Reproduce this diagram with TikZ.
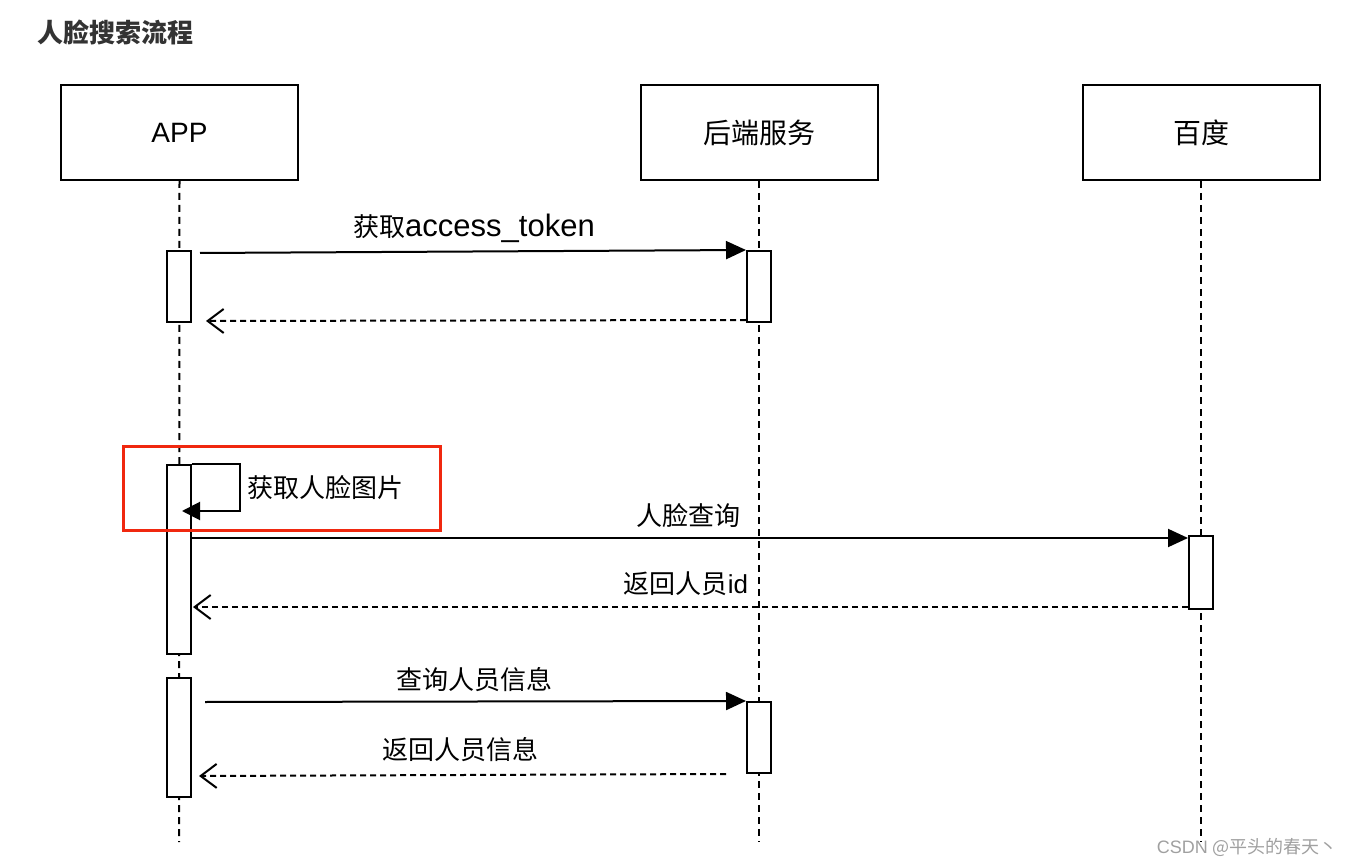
\documentclass[tikz,border=0pt]{standalone}
\usepackage{fontspec}
\setmainfont{Liberation Sans}
\newfontfamily\cjk{Noto Sans CJK SC}
\usetikzlibrary{arrows.meta,calc}
\definecolor{redframe}{RGB}{240,40,15}
\definecolor{titlegray}{RGB}{51,51,51}
\definecolor{wmgray}{RGB}{160,160,160}
\tikzset{
  actor/.style={draw,line width=2pt,minimum width=237pt,minimum height=95pt,inner sep=0pt,font=\fontsize{28}{32}\selectfont},
  actbar/.style={draw,fill=white,line width=2pt,minimum width=24pt,inner sep=0pt},
  lifeline/.style={line width=2pt,dash pattern=on 7pt off 5pt},
  msg/.style={line width=2pt,-{Triangle[length=20pt,width=18pt]}},
  reply/.style={line width=2pt,dash pattern=on 6pt off 4pt,-{Straight Barb[length=16pt,width=24pt,line width=2pt]}},
  lbl/.style={inner sep=0pt,font=\fontsize{26}{30}\selectfont},
}
\begin{document}
\begin{tikzpicture}[x=1pt,y=-1pt]
\useasboundingbox (0,0) rectangle (1349,866);
% title
\node[anchor=west,inner sep=0pt,text=titlegray,font=\cjk\bfseries\fontsize{26}{30}\selectfont] (title) at (37,32) {人脸搜索流程};
% actors
\node[actor] (app) at (179.5,132.5) {APP};
\node[actor] (srv) at (759,132.5) {\cjk 后端服务};
\node[actor] (bd) at (1201,132.5) {\cjk 百度};
% lifelines
\coordinate (append) at (179,842);
\coordinate (srvend) at (759,842);
\coordinate (bdend) at (1201,842);
\draw[lifeline] (app.south) -- (append);
\draw[lifeline] (srv.south) -- (srvend);
\draw[lifeline] (bd.south) -- (bdend);
% activation bars
\node[actbar,minimum height=71pt] (a1) at (179,286.5) {};
\node[actbar,minimum height=71pt] (b1) at (759,286.5) {};
\node[actbar,minimum height=189pt] (a2) at (179,559.5) {};
\node[actbar,minimum height=73pt] (c1) at (1201,572.5) {};
\node[actbar,minimum height=119pt] (a3) at (179,737.5) {};
\node[actbar,minimum height=71pt] (b2) at (759,737.5) {};
% messages
\draw[msg] ([xshift=8pt,yshift=-3pt]a1.north east) -- (b1.north west);
\node[lbl] (l1) at (474,228) {{\cjk 获取}{\fontsize{31}{34}\selectfont access\_token}};
\draw[reply] ([yshift=3pt]b1.south west) -- ([xshift=14pt,yshift=2pt]a1.south east);
% self call
\draw[msg,-{Triangle[length=18pt,width=18pt]}] (a2.north east) -- ++(48,0) -- ++(0,47) -- ([xshift=-10pt,yshift=-47pt]a2.north east);
\node[lbl,anchor=west] (l2) at (247,488) {\cjk 获取人脸图片};
\draw[redframe,line width=3pt] (123,446) rectangle (440,530);
% face query
\draw[msg] ([yshift=-74pt]a2.north east) -- ([yshift=-3pt]c1.north west);
\node[lbl] (l3) at (688,516) {\cjk 人脸查询};
\draw[reply] ([yshift=3pt]c1.south west) -- ([xshift=1pt,yshift=48pt]a2.south east);
\node[lbl] (l4) at (686,584) {{\cjk 返回人员}id};
% person info
\draw[msg] ([xshift=13pt,yshift=-25pt]a3.north east) -- (b2.north west);
\node[lbl] (l5) at (474,680) {\cjk 查询人员信息};
\draw[reply] ([xshift=-20pt]b2.south west) -- ([xshift=7pt,yshift=22pt]a3.south east);
\node[lbl] (l6) at (460,750) {\cjk 返回人员信息};
% watermark
\node[anchor=east,inner sep=0pt,text=wmgray,font=\fontsize{18}{20}\selectfont] (wm) at (1338,847) {CSDN {\cjk @平头的春天丶}};
\end{tikzpicture}
\end{document}
